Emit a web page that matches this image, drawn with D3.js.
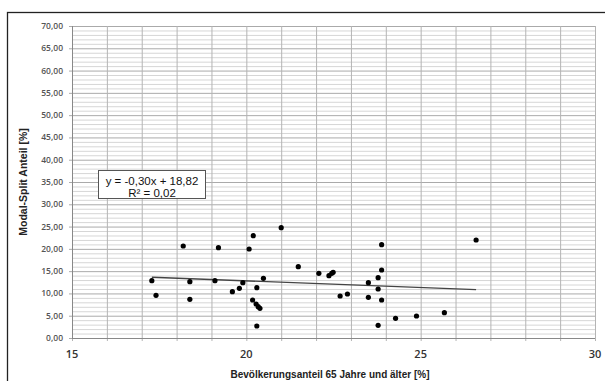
<!DOCTYPE html>
<html>
<head>
<meta charset="utf-8">
<script src="https://cdn.jsdelivr.net/npm/d3@7"></script>
<style>
  body { margin: 0; background: #fff; }
  svg { display: block; }
</style>
</head>
<body>
<svg width="605" height="381"></svg>
<script>
// Bevölkerungsanteil 65+ [%]
const xValues = [17.29, 17.41, 18.38, 18.38, 18.19, 19.20, 20.08, 19.10, 19.60, 19.80,
                 19.90, 20.49, 20.30, 20.18, 20.28, 20.34, 20.39, 20.30, 21.49, 22.08,
                 22.37, 22.45, 22.49, 22.69, 22.90, 23.50, 23.50, 23.78, 23.88, 23.78,
                 23.88, 23.78, 23.88, 24.28, 20.20, 21.00, 26.59, 24.88, 25.68];
// Modal-Split Anteil [%]
const yValues = [12.86, 9.58, 12.63, 8.68, 20.64, 20.26, 19.97, 12.86, 10.39, 11.15,
                 12.41, 13.39, 11.29, 8.53, 7.63, 7.02, 6.66, 2.69, 16.00, 14.51,
                 13.98, 14.51, 14.74, 9.42, 9.87, 12.41, 9.13, 13.53, 15.26, 10.99,
                 8.53, 2.85, 20.93, 4.42, 22.95, 24.75, 21.99, 4.94, 5.68];

const xTicks = [15, 20, 25, 30];
const yTicks = [0, 5, 10, 15, 20, 25, 30, 35, 40, 45, 50, 55, 60, 65, 70];
const trend = { slope: -0.30, intercept: 18.82, r2: 0.02 };
const equationLines = ["y = -0,30x + 18,82", "R² = 0,02"];

const svg = d3.select("svg");
const area = { left: 72, right: 595, top: 26, bottom: 338 };

const fmt = d3.format(".2f");
const comma = v => fmt(v).replace(".", ",");

const scX = d3.scaleLinear().domain([15, 30]).range([area.left, area.right]);
const scY = d3.scaleLinear().domain([0, 70]).range([area.bottom, area.top]);

// outer frame
svg.append("rect")
    .attr("x", 7.5).attr("y", 12.5)
    .attr("width", 620).attr("height", 400)
    .attr("fill", "#fff")
    .attr("stroke", "#222")
    .attr("stroke-width", 1.3);

// minor horizontal grid (every 1)
const g = svg.append("g");
g.selectAll("line.hminor")
    .data(d3.range(1, 70).filter(v => v % 5 !== 0))
    .enter().append("line")
    .attr("x1", area.left).attr("x2", area.right)
    .attr("y1", d => scY(d) + 0.5).attr("y2", d => scY(d) + 0.5)
    .attr("stroke", "#d6d6d6").attr("stroke-width", 1);

// major horizontal grid
g.selectAll("line.hmajor")
    .data(yTicks)
    .enter().append("line")
    .attr("x1", area.left - 3).attr("x2", area.right)
    .attr("y1", d => scY(d) + 0.5).attr("y2", d => scY(d) + 0.5)
    .attr("stroke", "#aaa").attr("stroke-width", 1);

// vertical grid (every 1)
g.selectAll("line.v")
    .data(d3.range(15, 31))
    .enter().append("line")
    .attr("x1", d => scX(d) + 0.5).attr("x2", d => scX(d) + 0.5)
    .attr("y1", area.top).attr("y2", area.bottom + 3)
    .attr("stroke", "#b4b4b4").attr("stroke-width", 1);

// axes lines
svg.append("line")
    .attr("x1", area.left + 0.5).attr("x2", area.left + 0.5)
    .attr("y1", area.top).attr("y2", area.bottom)
    .attr("stroke", "#888");
svg.append("line")
    .attr("x1", area.left).attr("x2", area.right)
    .attr("y1", area.bottom + 0.5).attr("y2", area.bottom + 0.5)
    .attr("stroke", "#888");

// y tick labels
svg.selectAll("text.ytick")
    .data(yTicks)
    .enter().append("text")
    .attr("x", 63)
    .attr("y", d => scY(d) + 3)
    .attr("text-anchor", "end")
    .style("font-family", "'Open Sans', sans-serif")
    .style("font-size", "8.5px")
    .style("font-weight", "600")
    .style("fill", "#555")
    .text(d => comma(d));

// x tick labels
svg.selectAll("text.xtick")
    .data(xTicks)
    .enter().append("text")
    .attr("x", d => scX(d))
    .attr("y", 358)
    .attr("text-anchor", "middle")
    .style("font-family", "'Open Sans', sans-serif")
    .style("font-size", "11px")
    .style("font-weight", "600")
    .style("fill", "#333")
    .text(d => d);

// axis titles
svg.append("text")
    .attr("x", 330).attr("y", 378)
    .attr("text-anchor", "middle")
    .style("font-family", "'Liberation Sans', Arial, sans-serif")
    .style("font-size", "10px")
    .style("font-weight", "bold")
    .style("fill", "#222")
    .text("Bevölkerungsanteil 65 Jahre und älter [%]");

svg.append("text")
    .attr("transform", "translate(27,182) rotate(-90)")
    .attr("text-anchor", "middle")
    .style("font-family", "'Liberation Sans', Arial, sans-serif")
    .style("font-size", "10.5px")
    .style("font-weight", "bold")
    .style("fill", "#222")
    .text("Modal-Split Anteil [%]");

// trendline
const [xMin, xMax] = d3.extent(xValues);
const line = d3.line().x(d => scX(d)).y(d => scY(trend.slope * d + trend.intercept));
svg.append("path")
    .datum([xMin, xMax])
    .attr("fill", "none")
    .attr("stroke", "#444")
    .attr("stroke-width", 1.3)
    .attr("d", line);

// points
const points = xValues.map((x, i) => ({ x: x, y: yValues[i] }));
svg.selectAll("circle.pt")
    .data(points)
    .enter().append("circle")
    .attr("cx", d => scX(d.x))
    .attr("cy", d => scY(d.y))
    .attr("r", 2.6)
    .attr("fill", "#000");

// equation box
svg.append("rect")
    .attr("x", 98.5).attr("y", 170.5)
    .attr("width", 107).attr("height", 28)
    .attr("fill", "#fff")
    .attr("stroke", "#555")
    .attr("stroke-width", 1);

svg.selectAll("text.eq")
    .data(equationLines)
    .enter().append("text")
    .attr("x", 152)
    .attr("y", (d, i) => 184.5 + i * 12.5)
    .attr("text-anchor", "middle")
    .style("font-family", "'Liberation Sans', Arial, sans-serif")
    .style("font-size", "11.5px")
    .style("fill", "#111")
    .text(d => d);
</script>
</body>
</html>
